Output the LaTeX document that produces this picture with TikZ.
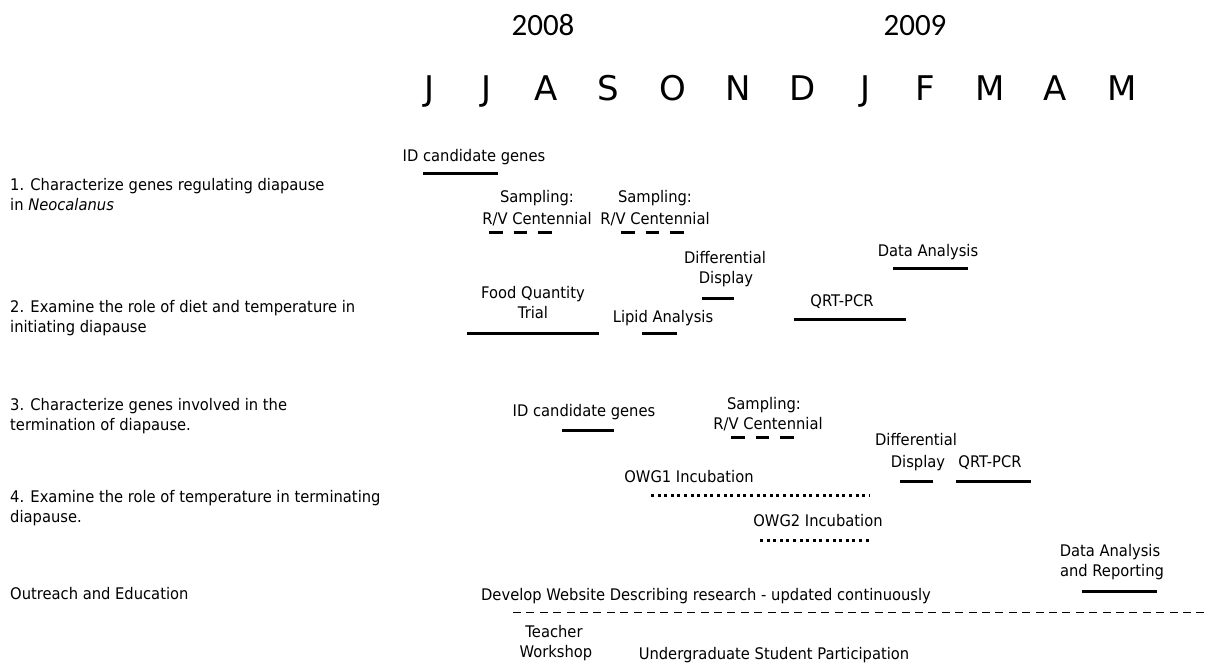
\documentclass[tikz,border=0pt]{standalone}
\usepackage{fontspec}
\setmainfont{DejaVu Sans}[FakeStretch=0.92]
\newfontfamily\yearfont{Carlito}
\newfontfamily\monthfont{DejaVu Sans}
\begin{document}
\begin{tikzpicture}[x=1pt,y=-1pt,
  lbl/.style={inner sep=0pt,anchor=base,font=\fontsize{16}{19}\selectfont},
  lft/.style={lbl,anchor=base west},
  yr/.style={inner sep=0pt,anchor=base,font=\yearfont\fontsize{31}{34}\selectfont},
  mon/.style={inner sep=0pt,anchor=base,font=\monthfont\fontsize{34}{38}\selectfont},
  bar/.style={line width=3pt},
  sampbar/.style={line width=3pt,dash pattern=on 13.5pt off 11pt},
  dotbar/.style={line width=3pt,dash pattern=on 3pt off 3.6pt},
  webbar/.style={line width=1.4pt,dash pattern=on 8pt off 5.4pt}]
\path[use as bounding box,fill=white] (0,0) rectangle (1205,669);
% header
\node[yr] (y8) at (543,36) {2008};
\node[yr] (y9) at (915,36) {2009};
\foreach \m/\x [count=\i] in {J/430,J/487,A/546,S/608,O/673,N/738,D/803,J/866,F/925,M/990,A/1055,M/1122}
  \node[mon] (m\i) at (\x,100) {\m};
% left labels
\node[lft] (g1a) at (10,190) {1. Characterize genes regulating diapause};
\node[lft] (g1b) at (10,210) {in \textit{Neocalanus}};
\node[lft] (g2a) at (10,312) {2. Examine the role of diet and temperature in};
\node[lft] (g2b) at (10,332) {initiating diapause};
\node[lft] (g3a) at (10,410) {3. Characterize genes involved in the};
\node[lft] (g3b) at (10,430) {termination of diapause.};
\node[lft] (g4a) at (10,502) {4. Examine the role of temperature in terminating};
\node[lft] (g4b) at (10,522) {diapause.};
\node[lft] (g5) at (10,599) {Outreach and Education};
% goal 1
\node[lbl] (t1) at (474,161) {ID candidate genes};
\draw[bar] (423,173) -- (498,173);
\node[lbl] (t2a) at (537,202) {Sampling:};
\node[lbl] (t2b) at (537,224) {R/V Centennial};
\draw[sampbar] (489,232.5) -- (552,232.5);
\node[lbl] (t3a) at (655,202) {Sampling:};
\node[lbl] (t3b) at (655,224) {R/V Centennial};
\draw[sampbar] (621,232.5) -- (684,232.5);
% goal 2
\node[lbl] (t4a) at (725,263) {Differential};
\node[lbl] (t4b) at (726,283) {Display};
\draw[bar] (702,298) -- (734,298);
\node[lbl] (t5) at (928,256) {Data Analysis};
\draw[bar] (893,268) -- (968,268);
\node[lbl] (t6a) at (533,298) {Food Quantity};
\node[lbl] (t6b) at (533,318) {Trial};
\draw[bar] (467,333) -- (599,333);
\node[lbl] (t7) at (663,322) {Lipid Analysis};
\draw[bar] (642,333) -- (677,333);
\node[lbl] (t8) at (842,306) {QRT-PCR};
\draw[bar] (794,319) -- (906,319);
% goal 3
\node[lbl] (t9) at (584,416) {ID candidate genes};
\draw[bar] (562,430) -- (614,430);
\node[lbl] (t10a) at (764,409) {Sampling:};
\node[lbl] (t10b) at (768,429) {R/V Centennial};
\draw[sampbar] (731,437) -- (794,437);
% goal 4
\node[lbl] (t11a) at (916,445) {Differential};
\node[lbl] (t11b) at (918,467) {Display};
\draw[bar] (900,481) -- (933,481);
\node[lbl] (t12) at (990,467) {QRT-PCR};
\draw[bar] (956,481) -- (1031,481);
\node[lbl] (t13) at (689,482) {OWG1 Incubation};
\draw[dotbar] (651,495) -- (870,495);
\node[lbl] (t14) at (818,526) {OWG2 Incubation};
\draw[dotbar] (760,540) -- (870,540);
% outreach
\node[lbl] (t15a) at (1110,556) {Data Analysis};
\node[lbl] (t15b) at (1112,576) {and Reporting};
\draw[bar] (1082,591) -- (1157,591);
\node[lbl] (t16) at (706,600) {Develop Website Describing research - updated continuously};
\draw[webbar] (513,612.5) -- (1205,612.5);
\node[lbl] (t17a) at (554,637) {Teacher};
\node[lbl] (t17b) at (556,657) {Workshop};
\node[lbl] (t18) at (774,659) {Undergraduate Student Participation};
\end{tikzpicture}
\end{document}
